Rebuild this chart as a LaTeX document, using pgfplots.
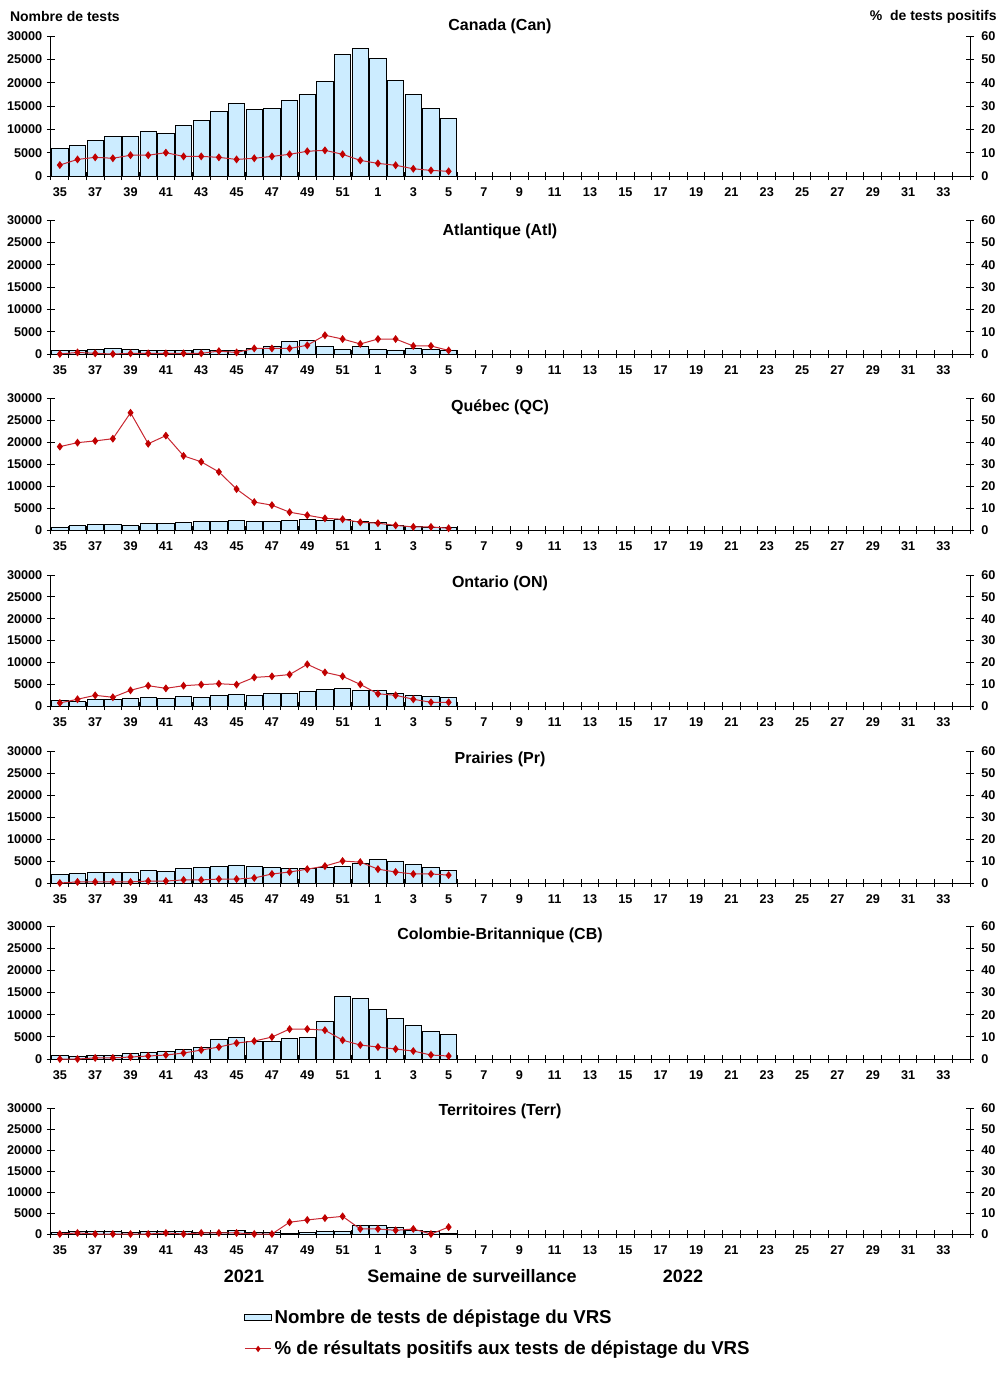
\documentclass[border=0pt]{standalone}
\usepackage{fontspec}
\setmainfont{Liberation Sans}
\usepackage{pgfplots}
\usepackage{pgfplotstable}
\pgfplotsset{compat=1.18}

\definecolor{barfill}{RGB}{204,236,255}
\definecolor{linered}{RGB}{200,40,50}
\definecolor{markred}{RGB}{192,0,0}

% i = week index (0 = week 35 ... 22 = week 5), n = number of tests, p = % positive
\pgfplotstableread{
i n p
0 5900 4.7
1 6600 7.1
2 7600 8.0
3 8500 7.6
4 8500 8.9
5 9600 8.9
6 9100 10.0
7 10900 8.4
8 11900 8.4
9 13900 8.0
10 15600 7.1
11 14300 7.6
12 14500 8.4
13 16200 9.3
14 17500 10.6
15 20300 11.0
16 26100 9.3
17 27400 6.7
18 25200 5.4
19 20500 4.6
20 17500 3.1
21 14500 2.4
22 12400 2.0
}\can
\pgfplotstableread{
i n p
0 700 0
1 800 0.7
2 1000 0.3
3 1300 0
4 1000 0.3
5 800 0.3
6 700 0.3
7 700 0.3
8 1000 0.3
9 700 1.3
10 800 0.7
11 1300 2.5
12 1800 2.5
13 2800 2.5
14 3100 3.9
15 1600 8.4
16 1100 6.7
17 1600 4.5
18 1100 6.7
19 900 6.7
20 1300 3.6
21 1100 3.6
22 900 1.6
}\atl
\pgfplotstableread{
i n p
0 700 37.9
1 1100 39.7
2 1300 40.5
3 1300 41.5
4 1100 53.3
5 1500 39.2
6 1500 42.9
7 1750 33.7
8 2000 31.0
9 2000 26.4
10 2200 18.6
11 2000 12.7
12 2000 11.3
13 2200 8.1
14 2450 6.7
15 2200 5.3
16 2450 4.9
17 2000 3.5
18 1750 3.1
19 1100 2.1
20 850 1.4
21 700 1.4
22 700 0.8
}\qc
\pgfplotstableread{
i n p
0 1200 1.4
1 1100 3.1
2 1500 4.9
3 1500 4.0
4 1750 7.2
5 2000 9.3
6 1750 8.1
7 2200 9.3
8 2000 9.8
9 2450 10.2
10 2700 9.8
11 2450 13.1
12 2900 13.6
13 2900 14.4
14 3350 19.1
15 3800 15.4
16 4050 13.6
17 3600 9.9
18 3600 5.6
19 2900 4.9
20 2450 3.1
21 2200 1.7
22 2000 1.7
}\on
\pgfplotstableread{
i n p
0 2000 0
1 2250 0.5
2 2500 0.5
3 2500 0.5
4 2500 0.5
5 2950 0.9
6 2700 0.9
7 3400 1.4
8 3600 1.4
9 3850 1.8
10 4100 1.8
11 3850 2.3
12 3600 4.1
13 3400 5.0
14 3400 6.3
15 3600 7.7
16 3850 10.0
17 4550 9.5
18 5450 6.3
19 5000 5.0
20 4300 4.1
21 3600 4.1
22 2950 3.6
}\pr
\pgfplotstableread{
i n p
0 900 0
1 700 0
2 900 0.5
3 900 0.5
4 1350 0.9
5 1600 1.35
6 1800 1.8
7 2250 2.7
8 2700 4.05
9 4500 5.4
10 4950 7.2
11 4050 8.1
12 4050 9.9
13 4700 13.5
14 4950 13.5
15 8550 13.0
16 14200 8.5
17 13700 6.3
18 11250 5.4
19 9200 4.5
20 7650 3.6
21 6300 1.8
22 5600 1.35
}\cb
\pgfplotstableread{
i n p
0 400 0
1 600 0.5
2 600 0
3 600 0
4 400 0
5 600 0
6 600 0.5
7 600 0
8 400 0.5
9 400 0.5
10 900 0.5
11 400 0
12 400 0
13 150 5.6
14 400 6.7
15 600 7.6
16 600 8.4
17 2050 2.4
18 2050 2.4
19 1600 1.75
20 900 2.4
21 600 0
22 150 3.3
}\terr

\pgfplotsset{
  panel/.style={
    scale only axis, width=689.25pt,
    xmin=0, xmax=52, ymin=0, clip=false,
    anchor=south west,
    tick align=center, major tick length=6pt,
    axis line style={black, line width=0.75pt},
    tick style={black, line width=0.75pt},
    ticklabel style={font=\bfseries\fontsize{9.5}{11}\selectfont},
    /pgf/number format/assume math mode=true,
    /pgf/number format/fixed, /pgf/number format/1000 sep={},
  },
  leftax/.style={
    panel, axis x line*=bottom, axis y line*=left,
    ymax=30000, ytick={0,5000,...,30000}, scaled y ticks=false,
    xtick={0,1,...,52},
    xticklabels={35,,37,,39,,41,,43,,45,,47,,49,,51,,1,,3,,5,,7,,9,,11,,13,,15,,17,,19,,21,,23,,25,,27,,29,,31,,33,,},
    xticklabel style={xshift=6.627pt, yshift=-2.5pt},
  },
  rightax/.style={
    panel, axis y line*=right, axis x line=none,
    ymax=60, ytick={0,10,...,60},
    yticklabel style={xshift=2pt},
  },
  bars/.style={ybar, bar width=0.92, fill=barfill, draw=black, line width=0.6pt},
  pct/.style={linered, line width=0.75pt, mark=diamond*, mark size=2.4pt,
    mark options={fill=markred, draw=markred, solid}},
  barlegend/.style={legend image code/.code={\draw[##1] (0pt,-2.2pt) rectangle (20pt,2.2pt);}},
  pctlegend/.style={legend image code/.code={\draw[mark repeat=2, mark phase=2, ##1] plot coordinates {(0pt,0pt) (10pt,0pt) (20pt,0pt)};}},
}

\tikzset{ptitle/.style={font=\bfseries\fontsize{12}{14}\selectfont}}

\newcommand\panel[3]{%
  \begin{axis}[leftax, at={(38.25pt,#1)}, height=#2]
    \addplot[bars] table[x expr=\thisrow{i}+0.5, y=n] {#3};
  \end{axis}
  \begin{axis}[rightax, at={(38.25pt,#1)}, height=#2]
    \addplot[pct] table[x expr=\thisrow{i}+0.5, y=p] {#3};
  \end{axis}
}

\begin{document}
\begin{tikzpicture}
\useasboundingbox (0,0) rectangle (753pt,-1030.5pt);

\node[anchor=west, font=\bfseries\fontsize{10.5}{12}\selectfont] at (4pt,-12.5pt) {Nombre de tests};
\node[anchor=east, font=\bfseries\fontsize{10.5}{12}\selectfont] at (751pt,-12.5pt) {\%\ \ de tests positifs};

\panel{-132pt}{105pt}{\can}
\node[ptitle] at (375pt,-19.5pt) {Canada (Can)};
\panel{-265.5pt}{100.5pt}{\atl}
\node[ptitle] at (375pt,-173.25pt) {Atlantique (Atl)};
\panel{-397.5pt}{99pt}{\qc}
\node[ptitle] at (375pt,-305.25pt) {Québec (QC)};
\panel{-529.5pt}{98.25pt}{\on}
\node[ptitle] at (375pt,-437.25pt) {Ontario (ON)};
\panel{-662.25pt}{99pt}{\pr}
\node[ptitle] at (375pt,-569.25pt) {Prairies (Pr)};
\panel{-794.25pt}{99.75pt}{\cb}
\node[ptitle] at (375pt,-701.25pt) {Colombie-Britannique (CB)};

\begin{axis}[leftax, at={(38.25pt,-925.5pt)}, height=94.5pt,
  legend cell align=left,
  legend style={at={(0.2100,-0.575)}, anchor=north west, draw=none, fill=none,
    inner sep=0pt, row sep=8pt,
    font=\bfseries\fontsize{14}{16}\selectfont}]
  \addplot[bars, barlegend] table[x expr=\thisrow{i}+0.5, y=n] {\terr};
  \addlegendentry{Nombre de tests de dépistage du VRS}
  \addlegendimage{pct, mark size=1.8pt, pctlegend}
  \addlegendentry{\% de résultats positifs aux tests de dépistage du VRS}
\end{axis}
\begin{axis}[rightax, at={(38.25pt,-925.5pt)}, height=94.5pt]
  \addplot[pct] table[x expr=\thisrow{i}+0.5, y=p] {\terr};
\end{axis}
\node[ptitle] at (375pt,-833.25pt) {Territoires (Terr)};

\node[font=\bfseries\fontsize{13.5}{15}\selectfont] at (183pt,-957pt) {2021};
\node[font=\bfseries\fontsize{13.5}{15}\selectfont] at (354pt,-957pt) {Semaine de surveillance};
\node[font=\bfseries\fontsize{13.5}{15}\selectfont] at (512.25pt,-957pt) {2022};
\end{tikzpicture}
\end{document}
